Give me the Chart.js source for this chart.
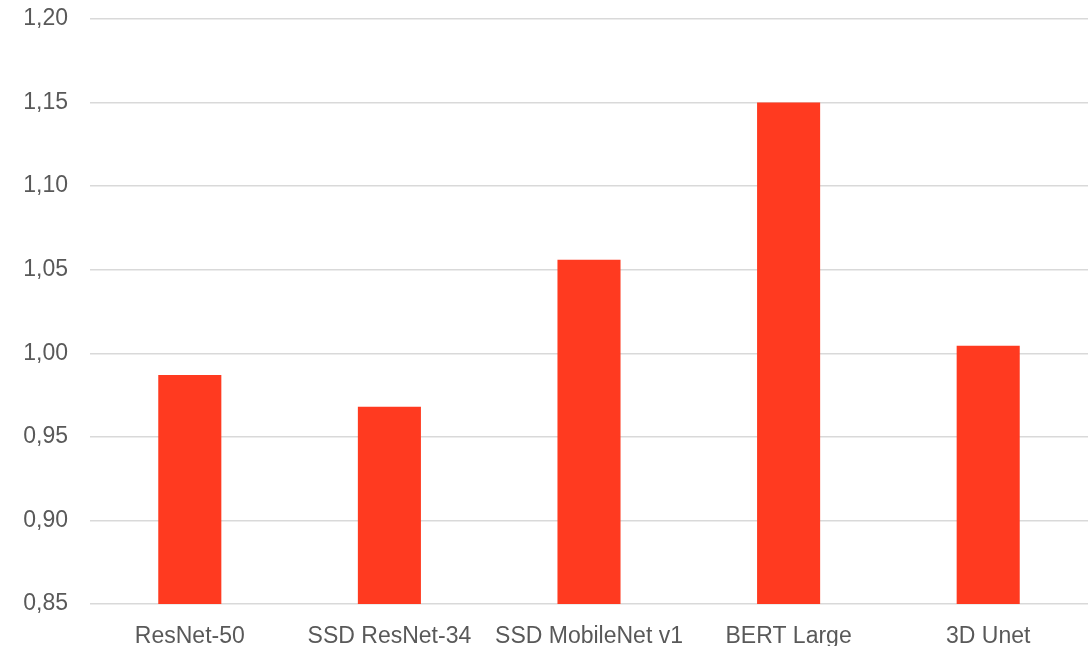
<!DOCTYPE html>
<html>
<head>
<meta charset="utf-8">
<script src="https://cdn.jsdelivr.net/npm/chart.js@4"></script>
<style>
  html, body { margin: 0; padding: 0; background: #fff; }
  #wrap { width: 1091px; height: 646px; }
</style>
</head>
<body>
<div id="wrap"><canvas id="chart"></canvas></div>
<script>
const categories = ['ResNet-50', 'SSD ResNet-34', 'SSD MobileNet v1', 'BERT Large', '3D Unet'];
const speedup = [0.987, 0.968, 1.056, 1.150, 1.0045];
const yTicks = [0.85, 0.90, 0.95, 1.00, 1.05, 1.10, 1.15, 1.20];

const textColor = '#595959';
const gridColor = '#d9d9d9';
const labelFont = { family: '"Liberation Sans", Arial, sans-serif', size: 23 };

new Chart(document.getElementById('chart'), {
    type: 'bar',
    data: {
        labels: categories,
        datasets: [{
            data: speedup,
            backgroundColor: '#ff3a20',
            borderWidth: 0,
            categoryPercentage: 1,
            barPercentage: 0.316
        }]
    },
    options: {
        responsive: true,
        maintainAspectRatio: false,
        animation: false,
        layout: {
            padding: { left: 23, right: 3, top: 19, bottom: 0 }
        },
        scales: {
            x: {
                grid: { display: false, drawTicks: false },
                border: { display: false },
                afterFit: function (scale) {
                    scale.height = 42;
                },
                ticks: {
                    color: textColor,
                    padding: 19,
                    maxRotation: 0,
                    font: labelFont
                }
            },
            y: {
                min: 0.85,
                max: 1.20,
                afterBuildTicks: function (scale) {
                    scale.ticks = yTicks.map(v => ({ value: v }));
                },
                afterFit: function (scale) {
                    // keep the label overhang from pushing the plot down
                    scale.width = 67;
                    scale.paddingTop = 0;
                    scale.paddingBottom = 0;
                },
                grid: { color: gridColor, lineWidth: 1.5, drawTicks: false },
                border: { display: false },
                ticks: {
                    color: textColor,
                    padding: 22,
                    font: labelFont,
                    callback: function (value) {
                        return value.toFixed(2).replace('.', ',');
                    }
                }
            }
        },
        plugins: {
            legend: { display: false },
            tooltip: { enabled: false }
        }
    }
});
</script>
</body>
</html>
